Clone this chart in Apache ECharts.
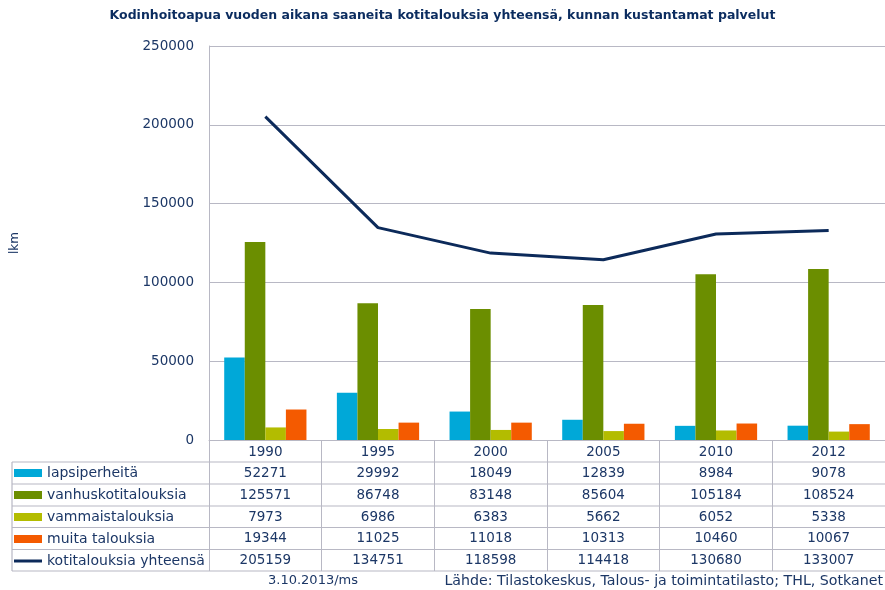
<!DOCTYPE html>
<html><head><meta charset="utf-8">
<script src="https://cdn.jsdelivr.net/npm/echarts@6/dist/echarts.min.js"></script>
<style>html,body{margin:0;padding:0;background:#fff}#c{width:885px;height:590px}</style>
</head><body><div id="c"></div>
<script>
const years = ['1990','1995','2000','2005','2010','2012'];
const lapsiperheita = [52271, 29992, 18049, 12839, 8984, 9078];
const vanhus = [125571, 86748, 83148, 85604, 105184, 108524];
const vammais = [7973, 6986, 6383, 5662, 6052, 5338];
const muita = [19344, 11025, 11018, 10313, 10460, 10067];
const yhteensa = [205159, 134751, 118598, 114418, 130680, 133007];
const seriesNames = ['lapsiperheitä','vanhuskotitalouksia','vammaistalouksia','muita talouksia','kotitalouksia yhteensä'];
const yTicks = {min: 0, max: 250000, interval: 50000};

const NAVY = '#1c3766';
const GRID = '#b8b8c4';
const FONT = 'DejaVu Sans';
const colors = ['#00a8d8','#6b8e00','#b3bc00','#f45a00','#0c2a5a'];

const chart = echarts.init(document.getElementById('c'), null, {renderer:'canvas'});
const barSeries = [lapsiperheita, vanhus, vammais, muita].map((d,i)=>({
  name: seriesNames[i], type:'bar', data:d, barGap:'0%', barCategoryGap:'27%',
  itemStyle:{color:colors[i]}, animation:false
}));
chart.setOption({
  animation:false,
  textStyle:{fontFamily:FONT},
  title:{text:'Kodinhoitoapua vuoden aikana saaneita kotitalouksia yhteensä, kunnan kustantamat palvelut',
    left:'center', top:9, padding:0, textStyle:{fontSize:12.5, fontWeight:'bold', color:'#0b2c5f', fontFamily:FONT}},
  grid:{left:209, right:-2, top:46, bottom:150},
  legend:{orient:'vertical', left:14, top:466, padding:0, itemWidth:28, itemHeight:8, itemGap:8,
    textStyle:{fontSize:14, color:NAVY, lineHeight:14, fontFamily:FONT},
    data: seriesNames.map((n,i)=> i<4 ? {name:n, icon:'rect'} : {name:n, icon:'path://M0,3.5L28,3.5L28,6.5L0,6.5Z'}),
    selectedMode:false},
  xAxis:{type:'category', data:years, boundaryGap:true,
    axisLine:{lineStyle:{color:GRID}},
    axisTick:{show:true, length:131, lineStyle:{color:GRID}},
    axisLabel:{fontSize:13.5, color:NAVY, margin:5, fontFamily:FONT}},
  yAxis:{type:'value', min:yTicks.min, max:yTicks.max, interval:yTicks.interval,
    name:'lkm', nameLocation:'middle', nameRotate:90, nameGap:188,
    nameTextStyle:{fontSize:12, color:NAVY, fontFamily:FONT},
    axisLine:{show:true, lineStyle:{color:GRID}},
    axisTick:{show:false},
    splitLine:{lineStyle:{color:GRID}},
    axisLabel:{fontSize:13.5, color:NAVY, margin:15, fontFamily:FONT, formatter:v=>String(v)}},
  series: barSeries.concat([{name:seriesNames[4], type:'line', data:yhteensa, symbol:'none',
    lineStyle:{color:colors[4], width:3}, itemStyle:{color:colors[4]}, animation:false}])
});

// table built from data and axis positions
const rowsData = [lapsiperheita, vanhus, vammais, muita, yhteensa];
const rowCenters = [473, 495, 517, 538.5, 560];
const hLines = [462, 484, 506, 527.5, 549.5, 571];
const graphics = [];
const xLeft = 12, xRight = 887;
hLines.forEach(y=>graphics.push({type:'line', shape:{x1:xLeft,y1:y,x2:xRight,y2:y}, style:{stroke:GRID, lineWidth:1.2}, silent:true}));
graphics.push({type:'line', shape:{x1:xLeft,y1:462,x2:xLeft,y2:571}, style:{stroke:GRID, lineWidth:1.2}, silent:true});
rowsData.forEach((arr,r)=>{
  arr.forEach((v,i)=>{
    const x = chart.convertToPixel({xAxisIndex:0}, years[i]);
    graphics.push({type:'text', x:x, y:rowCenters[r], style:{text:String(v), fontSize:13.5, fill:NAVY, fontFamily:FONT, align:'center', verticalAlign:'middle'}, silent:true});
  });
});
graphics.push({type:'text', x:313, y:581, style:{text:'3.10.2013/ms', fontSize:13, fill:NAVY, fontFamily:FONT, align:'center', verticalAlign:'middle'}});
graphics.push({type:'text', x:883, y:581, style:{text:'Lähde: Tilastokeskus, Talous- ja toimintatilasto; THL, Sotkanet', fontSize:14.2, fill:NAVY, fontFamily:FONT, align:'right', verticalAlign:'middle'}});
chart.setOption({graphic:graphics});
</script></body></html>
